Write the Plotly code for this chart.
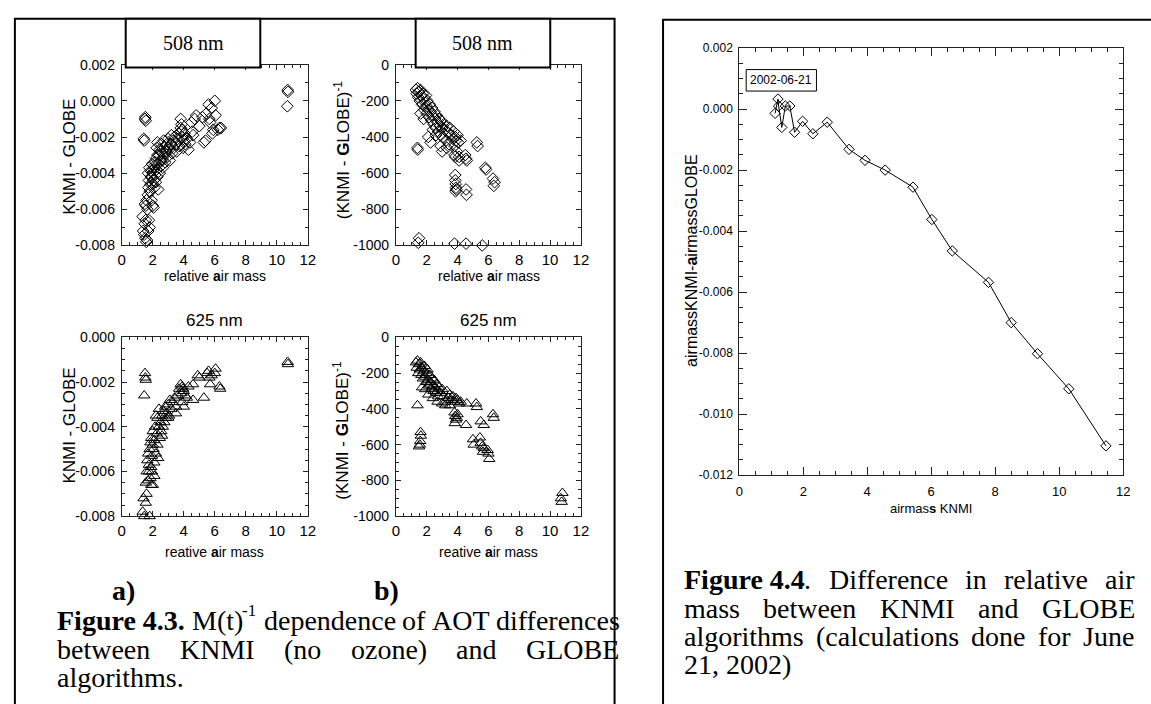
import plotly.graph_objects as go

W, H = 1151, 704

# ---------------- data ----------------
# Fig 4.3 a) top: 508 nm, KNMI - GLOBE vs relative air mass
x508_diff = [1.50, 1.55, 1.52, 1.42, 1.45,
             1.35, 1.38, 1.45, 1.52, 1.58, 1.62, 1.48, 1.55, 1.70, 1.80, 1.75, 1.50, 1.55, 1.60, 1.65,
             1.68, 1.72, 1.75, 1.70, 1.78, 1.82, 1.85, 1.88, 1.90, 1.92, 2.00, 2.05, 1.95, 2.00, 2.05,
             2.10, 2.10, 2.15, 2.20, 2.20, 2.25, 2.25, 2.30, 2.30, 2.35, 2.35, 2.40, 2.45, 2.45, 2.50,
             2.55, 2.55, 2.60, 2.65, 2.70, 2.70, 2.75, 2.80, 2.85, 2.90, 2.95, 3.00, 3.05, 3.10, 3.15,
             3.20, 3.25, 3.30, 3.35, 3.40, 3.50, 3.55, 3.60, 3.65, 3.70, 3.80, 3.80, 3.85, 3.90, 3.95,
             4.00, 4.05, 4.10, 4.20, 4.30, 4.40, 4.50, 4.55, 4.60, 4.70, 4.80, 5.00, 5.20, 5.30, 5.40,
             5.45, 5.60, 5.65, 5.70, 5.80, 5.85, 5.90, 6.00, 6.05, 6.20, 6.30, 6.40,
             1.95, 2.00, 2.05, 2.15, 2.30, 2.50, 2.60, 2.80, 3.00, 3.20, 3.85, 3.90,
             10.70, 10.72, 10.68]
y508_diff = [-0.0010, -0.0011, -0.0009, -0.0021, -0.0022,
             -0.0064, -0.0072, -0.0074, -0.0076, -0.0078, -0.0077, -0.0068, -0.0066, -0.0072, -0.0070, -0.0066, -0.0057, -0.0058, -0.0055, -0.0060,
             -0.0052, -0.0048, -0.0044, -0.0040, -0.0037, -0.0050, -0.0046, -0.0042, -0.0039, -0.0055, -0.0058, -0.0059, -0.0035, -0.0040, -0.0044,
             -0.0048, -0.0036, -0.0041, -0.0032, -0.0045, -0.0038, -0.0026, -0.0023, -0.0042, -0.0035, -0.0049, -0.0030, -0.0040, -0.0027, -0.0033,
             -0.0036, -0.0024, -0.0029, -0.0037, -0.0031, -0.0022, -0.0026, -0.0034, -0.0028, -0.0024, -0.0031, -0.0021, -0.0027, -0.0033, -0.0024,
             -0.0019, -0.0029, -0.0022, -0.0026, -0.0020, -0.0024, -0.0028, -0.0021, -0.0018, -0.0025, -0.0010, -0.0015, -0.0017, -0.0020, -0.0026,
             -0.0022, -0.0018, -0.0024, -0.0021, -0.0027, -0.0023, -0.0012, -0.0017, -0.0019, -0.0010, -0.0008, -0.0014, -0.0009, -0.0023, -0.0022,
             -0.0007, -0.0002, -0.0010, -0.0012, -0.0004, -0.0018, -0.0016, 0.0000, -0.0008, -0.0016, -0.0015, -0.0015,
             -0.0042, -0.0046, -0.0038, -0.0034, -0.0030, -0.0028, -0.0033, -0.0029, -0.0026, -0.0024, -0.0013, -0.0016,
             0.0006, 0.0005, -0.0003]

# Fig 4.3 b) top: 508 nm, (KNMI - GLOBE)^-1
x508_inv = [1.30, 1.35, 1.40, 1.45, 1.50, 1.55, 1.60, 1.65, 1.70, 1.75, 1.80, 1.85, 1.90, 1.95, 2.00, 2.00,
            2.05, 2.10, 2.15, 2.20, 2.25, 2.30, 2.35, 2.40, 2.45, 2.50, 2.55, 2.60, 2.65, 2.70, 2.75, 2.80,
            2.85, 2.90, 2.95, 3.00, 3.05, 3.10, 3.20, 3.25, 3.30, 3.40, 3.45, 3.50, 3.60, 3.70, 3.75, 3.80,
            3.85, 3.90, 3.95, 4.00, 4.05, 4.10, 4.20, 2.10, 2.25, 1.60, 1.80, 2.40, 2.60, 2.90, 3.00, 3.30,
            3.80, 3.85,
            1.40, 1.42, 3.85, 3.85, 3.88, 3.90, 3.87, 3.92, 4.55, 4.58, 4.50, 4.55, 4.60, 4.10, 5.25, 5.30,
            5.80, 5.85, 6.30, 6.40, 6.35, 1.50, 1.45, 1.40, 1.38, 3.80, 4.55, 5.60, 5.65]
y508_inv = [-140, -160, -130, -180, -150, -200, -140, -170, -220, -160, -190, -250, -210, -170, -230, -270,
            -200, -250, -290, -220, -260, -310, -240, -280, -330, -260, -300, -350, -280, -320, -370, -300,
            -340, -390, -310, -350, -400, -330, -360, -420, -340, -380, -440, -350, -390, -410, -370, -450,
            -400, -420, -480, -390, -430, -510, -420, -400, -430, -270, -300, -360, -390, -450, -480, -460,
            -500, -510,
            -460, -470, -610, -640, -660, -680, -700, -690, -690, -720, -500, -520, -530, -530, -430, -450,
            -570, -580, -630, -650, -670, -960, -985, -1010, -1030, -990, -990, -1000, -1020]

# Fig 4.3 a) bottom: 625 nm, KNMI - GLOBE
x625_diff = [1.50, 1.52, 1.55, 1.45, 10.70, 10.72,
             1.35, 1.40, 1.45, 1.50, 1.55, 1.60, 1.65, 1.70, 1.75, 1.80, 1.55, 1.60, 1.65, 1.70, 1.75,
             1.80, 1.85, 1.90, 1.95, 2.00, 1.85, 1.90, 1.95, 2.00, 2.05, 2.10, 2.10, 2.15, 2.20, 2.25,
             2.30, 2.30, 2.35, 2.40, 2.45, 2.50, 2.55, 2.60, 2.65, 2.70, 2.75, 2.80, 2.85, 2.90, 3.00,
             3.05, 3.10, 3.20, 3.30, 3.40, 3.50, 3.60, 3.70, 3.80, 3.85, 3.90, 3.95, 4.00, 4.10, 4.20,
             4.30, 4.60, 4.60, 4.90, 5.00, 5.30, 5.50, 5.60, 5.65, 5.70, 5.80, 6.00, 6.05, 6.30, 6.35,
             2.20, 2.40, 2.00, 1.90, 2.10, 2.60, 3.00, 3.50, 3.90, 4.00]
y625_diff = [-0.0016, -0.0018, -0.0019, -0.0026, -0.0011, -0.0012,
             -0.0078, -0.0072, -0.0080, -0.0082, -0.0074, -0.0070, -0.0083, -0.0064, -0.0060, -0.0080, -0.0065, -0.0060, -0.0055, -0.0052, -0.0057,
             -0.0050, -0.0063, -0.0066, -0.0060, -0.0066, -0.0047, -0.0045, -0.0053, -0.0042, -0.0050, -0.0056, -0.0046, -0.0040, -0.0052, -0.0043,
             -0.0036, -0.0048, -0.0054, -0.0040, -0.0045, -0.0038, -0.0042, -0.0035, -0.0040, -0.0033, -0.0038, -0.0031, -0.0036, -0.0034, -0.0030,
             -0.0035, -0.0028, -0.0032, -0.0029, -0.0027, -0.0031, -0.0026, -0.0023, -0.0021, -0.0025, -0.0029, -0.0023, -0.0031, -0.0026, -0.0027,
             -0.0022, -0.0021, -0.0028, -0.0017, -0.0018, -0.0027, -0.0016, -0.0015, -0.0018, -0.0021, -0.0017, -0.0016, -0.0014, -0.0022, -0.0023,
             -0.0035, -0.0032, -0.0048, -0.0058, -0.0062, -0.0044, -0.0036, -0.0034, -0.0022, -0.0024]

# Fig 4.3 b) bottom: 625 nm, (KNMI - GLOBE)^-1
x625_inv = [1.30, 1.35, 1.40, 1.45, 1.50, 1.55, 1.60, 1.65, 1.70, 1.75, 1.80, 1.85, 1.90, 1.95, 2.00, 2.05,
            2.10, 2.15, 2.20, 2.25, 2.30, 2.35, 2.40, 2.45, 2.50, 2.55, 2.60, 2.65, 2.70, 2.75, 2.80, 2.90,
            3.00, 3.10, 3.20, 3.30, 3.40, 3.50, 3.60, 3.70, 3.80, 3.90, 4.00, 4.10, 4.20, 1.70, 1.90, 2.10,
            2.40, 2.70, 3.00, 3.20, 3.50,
            1.40, 1.60, 1.62, 1.58, 1.55, 1.50, 3.80, 3.85, 3.90, 3.82, 3.95, 4.00, 4.60, 4.55, 5.20, 5.25,
            5.00, 5.05, 5.45, 5.50, 5.60, 5.65, 5.70, 5.95, 6.00, 6.05, 5.50, 5.70, 6.30, 6.35, 10.70, 10.75, 10.80]
y625_inv = [-140, -170, -130, -200, -150, -180, -140, -210, -170, -230, -190, -160, -220, -250, -200, -180,
            -240, -270, -210, -250, -290, -230, -270, -300, -240, -280, -310, -260, -300, -330, -280, -310,
            -290, -330, -360, -300, -340, -320, -350, -330, -360, -340, -350, -370, -360, -280, -290, -320,
            -340, -360, -370, -380, -380,
            -380, -530, -550, -580, -600, -610, -420, -440, -460, -480, -450, -430, -370, -490, -370, -390,
            -570, -600, -560, -590, -610, -640, -620, -630, -650, -680, -470, -490, -430, -450, -900, -920, -870]

# Fig 4.4: airmass KNMI - airmass GLOBE, 2002-06-21
airmass_knmi = [1.12, 1.21, 1.23, 1.33, 1.44, 1.58, 1.73, 1.98, 2.30, 2.75, 3.43, 3.93, 4.56,
                5.43, 6.02, 6.66, 7.79, 8.50, 9.32, 10.30, 11.46]
airmass_diff = [-0.00014, 0.00033, 0.00010, -0.00060, 0.00010, 0.00010, -0.00076, -0.00040, -0.00081,
                -0.00043, -0.00132, -0.00168, -0.00200, -0.00256, -0.00362, -0.00465, -0.00568,
                -0.00700, -0.00802, -0.00917, -0.01104]

# tick labels
x_ticks = [0, 2, 4, 6, 8, 10, 12]
x_ticktext = ["0", "2", "4", "6", "8", "10", "12"]
y_tl_vals = [0.002, 0.0, -0.002, -0.004, -0.006, -0.008]
y_tl_text = ["0.002", "0.000", "-0.002", "-0.004", "-0.006", "-0.008"]
y_bl_vals = [0.0, -0.002, -0.004, -0.006, -0.008]
y_bl_text = ["0.000", "-0.002", "-0.004", "-0.006", "-0.008"]
y_inv_vals = [0, -200, -400, -600, -800, -1000]
y_inv_text = ["0", "-200", "-400", "-600", "-800", "-1000"]
y_r_vals = [0.002, 0.0, -0.002, -0.004, -0.006, -0.008, -0.010, -0.012]
y_r_text = ["0.002", "0.000", "-0.002", "-0.004", "-0.006", "-0.008", "-0.010", "-0.012"]

# ---------------- helpers ----------------
NARROW = "Liberation Sans Narrow, Arial Narrow, Liberation Sans, Arial"
SANS = "Liberation Sans, Arial"
SERIF = "Liberation Serif, Times New Roman, serif"
SUP = 0.6


def px(x):
    return x / W


def py(y):
    return 1 - y / H


TIMES_R = {' ': 250, '(': 333, ')': 333, ',': 250, '-': 333, '.': 250,
           'A': 722, 'B': 667, 'C': 667, 'D': 722, 'E': 611, 'F': 556, 'G': 722, 'H': 722, 'I': 333,
           'J': 389, 'K': 722, 'L': 611, 'M': 889, 'N': 722, 'O': 722, 'P': 556, 'Q': 722, 'R': 667,
           'S': 556, 'T': 611, 'U': 722, 'V': 722, 'W': 944, 'X': 722, 'Y': 722, 'Z': 611,
           'a': 444, 'b': 500, 'c': 444, 'd': 500, 'e': 444, 'f': 333, 'g': 500, 'h': 500, 'i': 278,
           'j': 278, 'k': 500, 'l': 278, 'm': 778, 'n': 500, 'o': 500, 'p': 500, 'q': 500, 'r': 333,
           's': 389, 't': 278, 'u': 500, 'v': 500, 'w': 722, 'x': 500, 'y': 500, 'z': 444}
TIMES_B = {'F': 611, 'i': 278, 'g': 500, 'u': 556, 'r': 444, 'e': 444, '.': 250, ' ': 250,
           'a': 500, 'b': 556, ')': 333, '(': 333}


def seg_width(text, style, size):
    if style == 'b':
        return sum(TIMES_B.get(c, 500) for c in text) * size / 1000
    if style == 's':
        return sum(TIMES_R.get(c, 500) for c in text) * size * SUP / 1000 + 1
    return sum(TIMES_R.get(c, 500) for c in text) * size / 1000


annotations = []


def ann(text, x, y, size, family, xanchor='center', yanchor='middle', angle=0):
    annotations.append(dict(text=text, x=px(x), y=py(y), xref='paper', yref='paper',
                            xanchor=xanchor, yanchor=yanchor, showarrow=False, textangle=angle,
                            borderpad=0, font=dict(size=size, family=family, color='black')))


def justify(tokens, x0, x1, y, size):
    widths = [sum(seg_width(t, s, size) for t, s in tok) for tok in tokens]
    gap = (x1 - x0 - sum(widths)) / (len(tokens) - 1)
    x = x0
    for tok, w in zip(tokens, widths):
        xs = x
        for t, s in tok:
            if s == 's':
                ann(t, xs, y - 0.36 * size, round(size * SUP), SERIF, xanchor='left')
            elif s == 'b':
                ann("<b>" + t + "</b>", xs, y, size, SERIF, xanchor='left')
            else:
                ann(t, xs, y, size, SERIF, xanchor='left')
            xs += seg_width(t, s, size)
        x += w + gap


# ---------------- figure ----------------
fig = go.Figure()

diamond = dict(symbol='diamond-open', size=9, color='black', line=dict(width=1, color='black'))
triangle = dict(symbol='triangle-up-open', size=10, color='black', line=dict(width=1, color='black'))

fig.add_trace(go.Scatter(x=x508_diff, y=y508_diff, mode='markers', marker=diamond,
                         xaxis='x', yaxis='y', cliponaxis=False))
fig.add_trace(go.Scatter(x=x508_inv, y=y508_inv, mode='markers', marker=diamond,
                         xaxis='x2', yaxis='y2', cliponaxis=False))
fig.add_trace(go.Scatter(x=x625_diff, y=y625_diff, mode='markers', marker=triangle,
                         xaxis='x3', yaxis='y3', cliponaxis=False))
fig.add_trace(go.Scatter(x=x625_inv, y=y625_inv, mode='markers', marker=triangle,
                         xaxis='x4', yaxis='y4', cliponaxis=False))
fig.add_trace(go.Scatter(x=airmass_knmi, y=airmass_diff, mode='lines+markers',
                         line=dict(color='black', width=1),
                         marker=dict(symbol='diamond-open', size=8, color='black',
                                     line=dict(width=1, color='black')),
                         xaxis='x5', yaxis='y5', cliponaxis=False))


def axis(domain, anchor, rng, vals, text, minor_dtick, fsize, ticklen=5, minorlen=3, standoff=3):
    return dict(domain=domain, anchor=anchor, range=rng, tickmode='array', tickvals=vals,
                ticktext=text, ticks='inside', ticklen=ticklen, tickwidth=1, tickcolor='#222',
                showline=True, linecolor='#222', linewidth=1, mirror='allticks',
                showgrid=False, zeroline=False, ticklabelstandoff=standoff,
                tickfont=dict(size=fsize, family=NARROW, color='black'),
                minor=dict(ticks='inside', ticklen=minorlen, dtick=minor_dtick, tick0=0,
                           tickcolor='#222', tickwidth=1, showgrid=False))


XA = [px(119), px(307)]
XB = [px(396), px(583)]
YT = [py(243), py(58)]
YB = [py(520), py(337)]

fig.update_layout(
    width=W, height=H, margin=dict(l=0, r=0, t=0, b=0),
    paper_bgcolor='white', plot_bgcolor='white', showlegend=False,
    xaxis=axis(XA, 'y', [0, 12], x_ticks, x_ticktext, 0.5, 15, standoff=1),
    yaxis=axis(YT, 'x', [-0.008, 0.002], y_tl_vals, y_tl_text, 0.001, 14),
    xaxis2=axis(XB, 'y2', [0, 12], x_ticks, x_ticktext, 0.5, 15, standoff=1),
    yaxis2=axis(YT, 'x2', [-1000, 0], y_inv_vals, y_inv_text, 100, 14),
    xaxis3=axis(XA, 'y3', [0, 12], x_ticks, x_ticktext, 0.5, 15, standoff=1),
    yaxis3=axis(YB, 'x3', [-0.008, 0.0], y_bl_vals, y_bl_text, 0.0005, 14),
    xaxis4=axis(XB, 'y4', [0, 12], x_ticks, x_ticktext, 0.5, 15, standoff=1),
    yaxis4=axis(YB, 'x4', [-1000, 0], y_inv_vals, y_inv_text, 50, 14),
    xaxis5=axis([px(743), px(1131)], 'y5', [0, 12], x_ticks, x_ticktext, 0.5, 13,
                ticklen=8, minorlen=4, standoff=4),
    yaxis5=axis([py(478), py(41)], 'x5', [-0.012, 0.002], y_r_vals, y_r_text, 0.0005, 12,
                ticklen=8, minorlen=4),
)

# axis titles
ann("KNMI - GLOBE", 66, 152, 17, SANS, angle=-90)
ann("(KNMI - <b>G</b>LOBE)<sup>-1</sup>", 341, 145, 17, SANS, angle=-90)
ann("KNMI - GLOBE", 66, 427, 17, SANS, angle=-90)
ann("(KNMI - <b>G</b>LOBE)<sup>-1</sup>", 341, 432, 17, SANS, angle=-90)
ann("relative <b>a</b>ir mass", 213, 274, 14, NARROW)
ann("relative <b>a</b>ir mass", 490, 274, 14, NARROW)
ann("reative <b>a</b>ir mass", 213, 557, 14, NARROW)
ann("reative <b>a</b>ir mass", 490, 557, 14, NARROW)
ann("625 nm", 213, 320, 17, NARROW)
ann("625 nm", 490, 320, 17, NARROW)
ann("508 nm", 191, 36, 20, SERIF)
ann("508 nm", 484, 36, 20, SERIF)

ann("airmassKNMI-<b>a</b>irmassGLOBE", 694, 258, 16, SANS, angle=-90)
ann("airmas<b>s</b> KNMI", 937, 512, 13, NARROW)
ann("2002-06-21", 785.5, 74, 12, NARROW)

# captions
CAP = 28
ann("<b>a)</b>", 108, 596, CAP, SERIF, xanchor='left')
ann("<b>b)</b>", 373, 596, CAP, SERIF, xanchor='left')
justify([[('Figure 4.3.', 'b')], [('M(t)', 'r'), ('-1', 's')], [('dependence', 'r')], [('of', 'r')],
         [('AOT', 'r')], [('differences', 'r')]], 53, 621, 627, CAP)
justify([[('between', 'r')], [('KNMI', 'r')], [('(no', 'r')], [('ozone)', 'r')], [('and', 'r')],
         [('GLOBE', 'r')]], 53, 620, 656, CAP)
ann("algorithms.", 53, 685, CAP, SERIF, xanchor='left')

justify([[('Figure 4.4', 'b'), ('.', 'r')], [('Difference', 'r')], [('in', 'r')], [('relative', 'r')],
         [('air', 'r')]], 686, 1141, 585, CAP)
justify([[('mass', 'r')], [('between', 'r')], [('KNMI', 'r')], [('and', 'r')], [('GLOBE', 'r')]],
        686, 1141, 614, CAP)
justify([[('algorithms', 'r')], [('(calculations', 'r')], [('done', 'r')], [('for', 'r')],
         [('June', 'r')]], 686, 1141, 643, CAP)
ann("21, 2002)", 686, 672, CAP, SERIF, xanchor='left')

# frames / boxes
shapes = [
    dict(type='rect', xref='paper', yref='paper', x0=px(11), x1=px(617), y0=py(730), y1=py(11),
         line=dict(color='black', width=2), fillcolor='rgba(0,0,0,0)', layer='above'),
    dict(type='rect', xref='paper', yref='paper', x0=px(666), x1=px(1170), y0=py(730), y1=py(12),
         line=dict(color='black', width=2), fillcolor='rgba(0,0,0,0)', layer='above'),
    dict(type='rect', xref='paper', yref='paper', x0=px(123), x1=px(259), y0=py(61), y1=py(11),
         line=dict(color='black', width=2), fillcolor='white', layer='above'),
    dict(type='rect', xref='paper', yref='paper', x0=px(416), x1=px(552), y0=py(61), y1=py(11),
         line=dict(color='black', width=2), fillcolor='white', layer='above'),
    dict(type='rect', xref='paper', yref='paper', x0=px(750), x1=px(821), y0=py(85), y1=py(63),
         line=dict(color='black', width=1), fillcolor='white', layer='above'),
]
fig.update_layout(shapes=shapes, annotations=annotations)

fig.write_html("out.html")
